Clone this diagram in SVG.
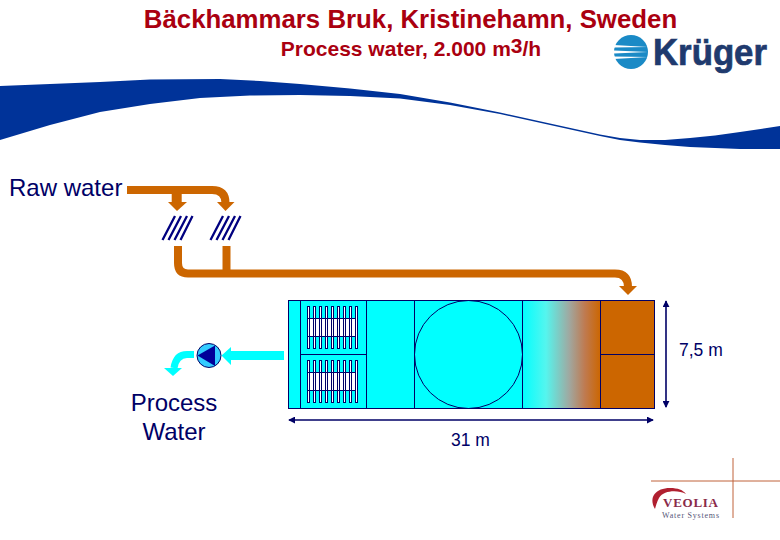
<svg xmlns="http://www.w3.org/2000/svg" width="780" height="540" viewBox="0 0 780 540">
<style>
text{font-family:"Liberation Sans",Arial,sans-serif}
.title{fill:#aa0010;text-anchor:middle}
.lab{fill:#000066}
.pipe{fill:none;stroke:#cc6600;stroke-width:8}
.or{fill:#cc6600}
.ln{fill:none;stroke:#000066;stroke-width:1}
.cy{fill:#00ffff}
.hatch{stroke:#000080;stroke-width:2.3;fill:none}
.slat{fill:#fff;stroke:#000066;stroke-width:1}
.dim{stroke:#000066;stroke-width:1.6;fill:none;marker-start:url(#dh);marker-end:url(#dh)}
.serif{font-family:"Liberation Serif",serif}
</style>
<defs>
<linearGradient id="g" x1="0" x2="1" y1="0" y2="0">
<stop offset="0" stop-color="#00ffff"/><stop offset="0.3" stop-color="#55f5ee"/><stop offset="0.6" stop-color="#a0a8a0"/><stop offset="0.8" stop-color="#bf7a50"/><stop offset="1" stop-color="#cc6600"/>
</linearGradient>
<marker id="dh" viewBox="0 0 8 8" refX="7" refY="4" markerWidth="7" markerHeight="7" markerUnits="userSpaceOnUse" orient="auto-start-reverse"><path d="M0,0L8,4L0,8Z" fill="#000066"/></marker>
<g id="slats"><rect class="slat" x="0" y="0" width="2" height="42"/><rect class="slat" x="6" y="0" width="2" height="42"/><rect class="slat" x="12" y="0" width="2" height="42"/><rect class="slat" x="18" y="0" width="2" height="42"/><rect class="slat" x="24" y="0" width="2" height="42"/><rect class="slat" x="30" y="0" width="2" height="42"/><rect class="slat" x="36" y="0" width="2" height="42"/><rect class="slat" x="42" y="0" width="2" height="42"/><rect class="slat" x="48" y="0" width="2" height="42"/></g>
</defs>
<rect width="780" height="540" fill="#fff"/>
<text class="title" x="410.500" y="28" font-size="25.800" font-weight="bold">Bäckhammars Bruk, Kristinehamn, Sweden</text>
<text class="title" x="411" y="56" font-size="21" font-weight="bold">Process water, 2.000 m<tspan dy="-3">3</tspan><tspan dy="3">/h</tspan></text>
<path id="swoosh" d="M0,86L50,84L100,82L150,79.500L220,79L260,81L300,84L350,88.500L400,94L450,102.500L500,112.500L550,123.500L600,134.500L620,138L640,140L665,140L690,138L715,135.500L740,132L780,126V149L740,149L690,147L665,145L640,142.500L620,140L600,136L550,125L500,114L450,105L400,98.500L350,96L300,95L250,95.500L200,98L150,104L100,112L50,125L0,140Z" fill="#003399"/>
<g id="kruger-logo">
<circle cx="631" cy="52" r="17" fill="#1a8ac6"/>
<path d="M614,45L648,47L614,47.500ZM614,50.500L648,52L614,53.500ZM614,56.500L648,57L614,59Z" fill="#fff"/>
<text x="653" y="65" font-size="36" font-weight="bold" fill="#1f3a6e" stroke="#1f3a6e" stroke-width="0.7" textLength="114" lengthAdjust="spacingAndGlyphs">Krüger</text>
</g>
<g id="raw-water"><text class="lab" x="9" y="196" font-size="24">Raw water</text></g>
<g id="connectors">
<path class="pipe" d="M127,190H212Q225.500,190 225.500,203"/>
<path class="pipe" d="M176.700,190V203" style="stroke-width:10"/>
<path class="or" d="M168,202H187L177,211Z"/>
<path class="or" d="M217,202H234.500L225.500,211Z"/>
<path class="pipe" d="M178,246V263Q178,273.500 188,273.500H615Q628,273.500 628,287"/>
<path class="pipe" d="M226.500,246V273.500"/>
<path class="or" d="M619,286H637L628,295Z"/>
<path class="cy" d="M284,351V360H231V365L221.500,355.500L231,347V351Z"/>
<path d="M194,354.500H187Q176,354.500 174,368" fill="none" stroke="#00ffff" stroke-width="7"/>
<path class="cy" d="M164,368H182L173,376Z"/>
<path class="dim" d="M289,420H653"/>
<path class="dim" d="M666,301V407"/>
</g>
<g id="hatch-1" class="hatch"><path d="M162.500,240L175,216M168.500,240L181,216M174.500,240L187,216M180.500,240L192.500,216"/></g>
<g id="hatch-2" class="hatch"><path d="M210.500,240L223,216M216.500,240L229,216M222.500,240L235,216M228.500,240L240.500,216"/></g>
<g id="pump">
<circle cx="209" cy="355.500" r="12" fill="#33ccff" stroke="#000066"/>
<path d="M197.500,355.500L215,345.500V366Z" fill="#000099"/>
</g>
<g id="basin">
<rect x="288.500" y="300.500" width="234" height="108" class="cy"/>
<rect x="522.500" y="300.500" width="78" height="108" fill="url(#g)"/>
<rect x="600.500" y="300.500" width="54" height="108" class="or"/>
<rect x="288.500" y="300.500" width="366" height="108" class="ln"/>
<path class="ln" d="M300.500,300.500V408.500M366.500,300.500V408.500M414.500,300.500V408.500M522.500,300.500V408.500M600.500,300.500V408.500M300.500,354.500H366.500M600.500,354.500H654.500"/>
<circle class="ln" cx="468.500" cy="354.500" r="54"/>
<rect x="308" y="318" width="48" height="18" fill="#fff"/>
<rect x="308" y="372" width="48" height="18" fill="#fff"/>
<use href="#slats" x="307.500" y="306.500"/>
<use href="#slats" x="307.500" y="360.500"/>
<path class="ln" d="M308,318.500H356M308,336.500H356M308,372.500H356M308,390.500H356"/>
</g>
<g id="process-water"><text class="lab" x="174" y="411" font-size="24" text-anchor="middle">Process</text><text class="lab" x="174" y="440" font-size="24" text-anchor="middle">Water</text></g>
<g id="dim-labels"><text class="lab" x="679" y="356" font-size="17.500">7,5 m</text><text class="lab" x="451" y="446" font-size="17.500">31 m</text></g>
<g id="veolia-logo">
<path d="M733,458V518M651,481H780" stroke="#c0623a" stroke-width="1" fill="none"/>
<path d="M655,509C648,497 656,488 670,488C678,488 683,490 686,494C678,490 664,490 659,498C657,502 656,505 655,509Z" fill="#b02030"/>
<text class="serif" x="663" y="507" font-size="13" font-weight="bold" fill="#8a2a4a" textLength="55">VEOLIA</text>
<text class="serif" x="662" y="518" font-size="8" fill="#555577" textLength="57">Water Systems</text>
</g>
</svg>
